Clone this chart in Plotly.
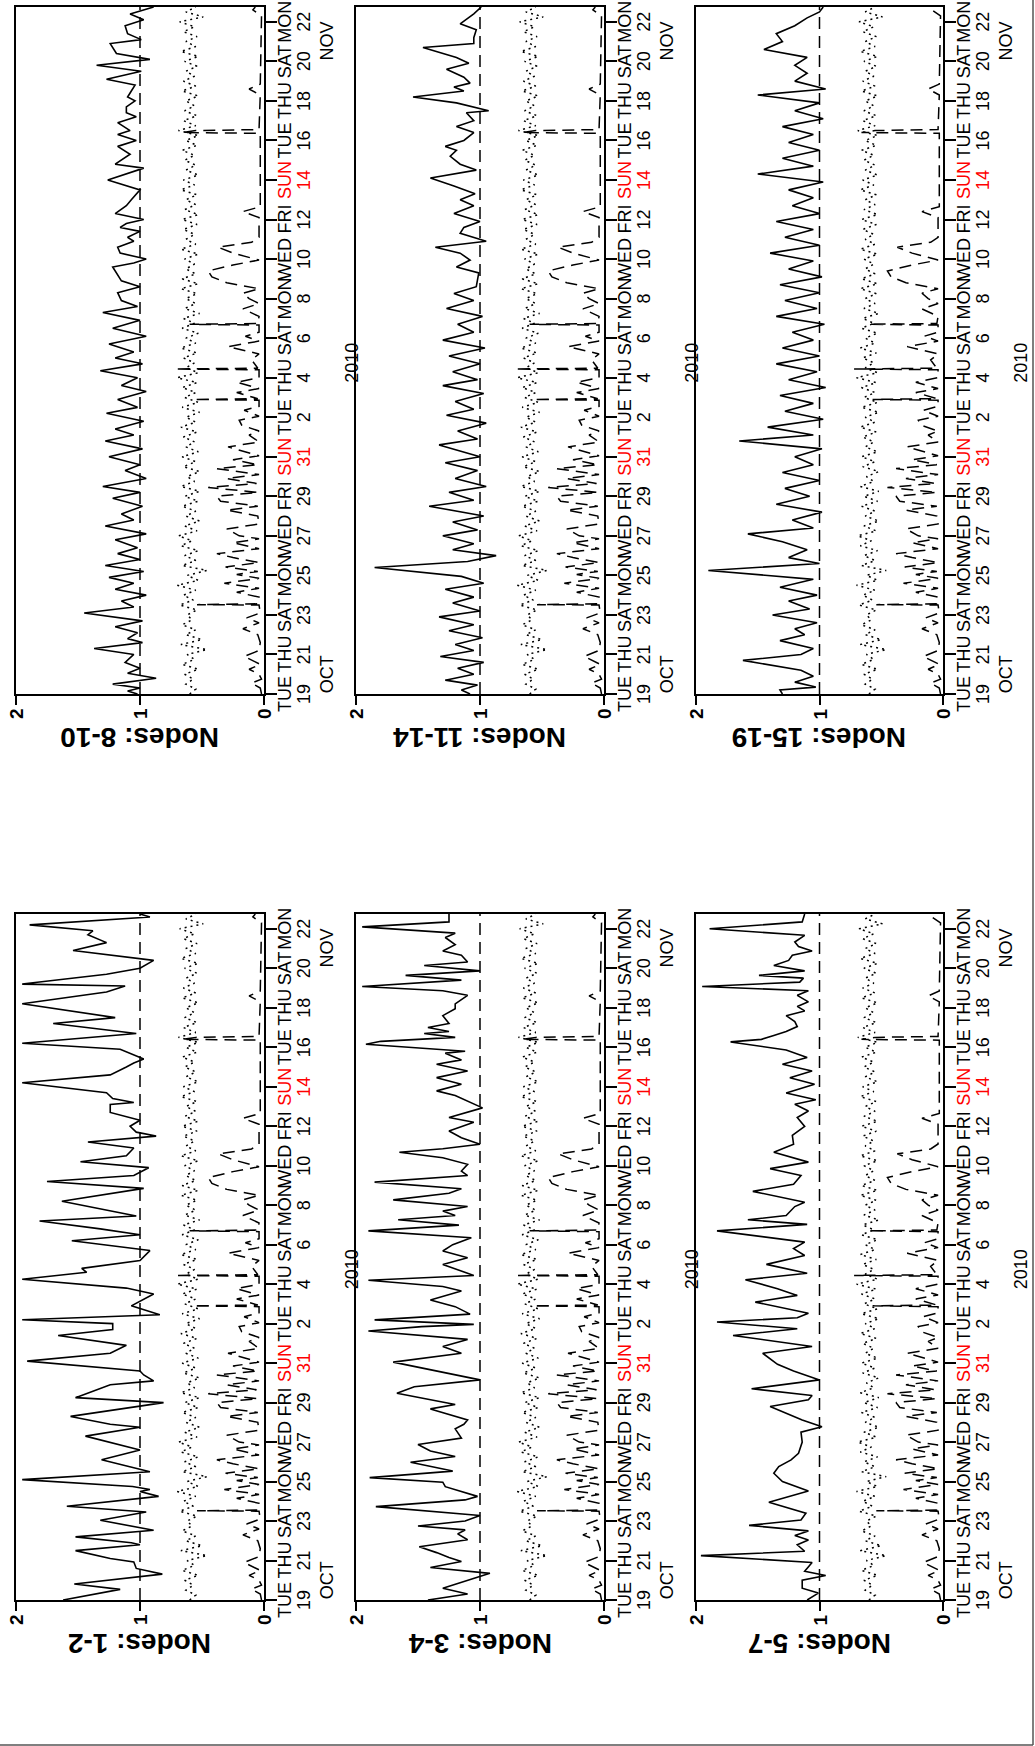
import pandas as pd
import plotly.graph_objects as go

W, H = 1035, 1746
START = pd.Timestamp("2010-10-19 00:00")
END = pd.Timestamp("2010-11-22 18:00")

# Date axis ticks (every second day) and their two-line labels
TICK_DATES = ["2010-10-19", "2010-10-21", "2010-10-23", "2010-10-25", "2010-10-27",
              "2010-10-29", "2010-10-31", "2010-11-02", "2010-11-04", "2010-11-06",
              "2010-11-08", "2010-11-10", "2010-11-12", "2010-11-14", "2010-11-16",
              "2010-11-18", "2010-11-20", "2010-11-22"]
TICK_DAYS = ["TUE", "THU", "SAT", "MON", "WED", "FRI", "SUN", "TUE", "THU", "SAT",
             "MON", "WED", "FRI", "SUN", "TUE", "THU", "SAT", "MON"]
TICK_NUMS = ["19", "21", "23", "25", "27", "29", "31", "2", "4", "6",
             "8", "10", "12", "14", "16", "18", "20", "22"]
MONTH_LABELS = ["OCT", "NOV"]
MONTH_DATES = ["2010-10-20", "2010-11-21"]
YEAR_LABEL = "2010"
YEAR_DATE = "2010-11-04 18:00"
VALUE_TICKS = [0, 1, 2]

# Dotted series shared by all panels, one value every 6 hours from Oct 19 00:00
DOTTED = [0.60, 0.55, 0.63, 0.57, 0.64, 0.53, 0.66, 0.56, 0.62, 0.46, 0.67, 0.50,
          0.63, 0.55, 0.66, 0.58, 0.62, 0.54, 0.68, 0.57, 0.65, 0.55, 0.70, 0.53,
          0.62, 0.46, 0.66, 0.55, 0.64, 0.53, 0.67, 0.58, 0.69, 0.54, 0.64, 0.52,
          0.63, 0.55, 0.66, 0.53, 0.64, 0.52, 0.67, 0.56, 0.62, 0.52, 0.65, 0.55,
          0.66, 0.53, 0.63, 0.56, 0.65, 0.54, 0.67, 0.55, 0.63, 0.52, 0.66, 0.53,
          0.64, 0.55, 0.66, 0.54, 0.70, 0.53, 0.63, 0.56, 0.65, 0.54, 0.67, 0.55,
          0.63, 0.53, 0.66, 0.56, 0.65, 0.52, 0.64, 0.55, 0.63, 0.54, 0.67, 0.53,
          0.66, 0.55, 0.63, 0.56, 0.64, 0.53, 0.67, 0.55, 0.63, 0.56, 0.65, 0.54,
          0.66, 0.53, 0.64, 0.55, 0.63, 0.54, 0.67, 0.56, 0.65, 0.53, 0.63, 0.55,
          0.64, 0.56, 0.66, 0.54, 0.63, 0.53, 0.69, 0.55, 0.65, 0.54, 0.64, 0.56,
          0.63, 0.53, 0.66, 0.55, 0.65, 0.56, 0.63, 0.54, 0.64, 0.53, 0.67, 0.55,
          0.63, 0.54, 0.65, 0.56, 0.68, 0.49, 0.63, 0.55]

# Dashed series shared by all panels: (days since Oct 19, value)
DASHED = [(0.0, 0.02), (0.3, 0.03), (0.55, 0.10), (0.75, 0.02), (1.0, 0.04), (1.25, 0.12),
          (1.5, 0.03), (1.9, 0.16), (2.2, 0.04), (2.6, 0.03), (3.0, 0.05), (3.3, 0.17),
          (3.6, 0.04), (3.85, 0.14), (4.1, 0.03), (4.5, 0.04), (4.52, 0.54), (4.56, 0.05),
          (4.9, 0.04), (5.15, 0.22), (5.35, 0.04), (5.6, 0.32), (5.85, 0.04), (6.05, 0.22),
          (6.2, 0.05), (6.42, 0.31), (6.65, 0.04), (6.9, 0.25), (7.1, 0.38), (7.35, 0.04),
          (7.65, 0.25), (7.85, 0.04), (8.0, 0.20), (8.35, 0.30), (8.6, 0.04), (9.0, 0.05),
          (9.3, 0.30), (9.5, 0.05), (9.75, 0.35), (10.0, 0.38), (10.2, 0.05), (10.45, 0.45),
          (10.65, 0.06), (10.9, 0.30), (11.1, 0.04), (11.4, 0.38), (11.6, 0.05), (11.85, 0.25),
          (12.05, 0.04), (12.5, 0.29), (12.75, 0.04), (13.1, 0.12), (13.3, 0.04), (13.6, 0.18),
          (13.85, 0.20), (14.05, 0.04), (14.35, 0.16), (14.55, 0.04), (14.86, 0.04), (14.9, 0.57),
          (14.94, 0.05), (15.25, 0.22), (15.45, 0.04), (15.77, 0.22), (16.0, 0.04), (16.4, 0.04),
          (16.44, 0.72), (16.48, 0.05), (16.9, 0.10), (17.2, 0.04), (17.57, 0.29), (17.85, 0.04),
          (18.1, 0.15), (18.3, 0.04), (18.66, 0.04), (18.7, 0.60), (18.74, 0.05), (19.1, 0.04),
          (19.48, 0.17), (19.75, 0.04), (20.0, 0.12), (20.27, 0.17), (20.5, 0.04), (20.8, 0.30),
          (21.1, 0.42), (21.4, 0.45), (21.7, 0.25), (21.95, 0.04), (22.3, 0.25), (22.6, 0.37),
          (22.85, 0.10), (23.1, 0.04), (24.1, 0.04), (24.4, 0.17), (24.65, 0.03), (28.36, 0.03),
          (28.4, 0.66), (28.5, 0.55), (28.55, 0.04), (30.3, 0.03), (30.6, 0.12), (30.85, 0.03),
          (34.3, 0.02), (34.6, 0.09), (34.75, 0.07)]

# Per-panel solid series: (days since Oct 19, value)
SOLID_1_2 = [(0, 1.62), (0.54, 1.16), (0.81, 1.53), (1.31, 0.82), (1.6, 1.03), (1.93, 1.05),
             (2.1, 1.24), (2.5, 1.52), (2.8, 1.0), (2.9, 1.07), (3.2, 1.52), (3.53, 0.89),
             (4.04, 1.32), (4.46, 0.95), (4.75, 1.59), (5.25, 0.85), (5.5, 1.0), (5.6, 0.92),
             (5.75, 1.06), (6.1, 1.95), (6.5, 0.92), (7.1, 1.31), (7.6, 1.0), (8.0, 1.24),
             (8.3, 1.44), (8.75, 1.0), (8.9, 1.24), (9.3, 1.56), (9.6, 1.24), (10.0, 0.81),
             (10.25, 1.52), (10.9, 1.24), (11.1, 0.89), (11.4, 0.97), (11.6, 1.0), (12.1, 1.91),
             (12.5, 1.24), (12.9, 1.11), (13.4, 1.66), (13.7, 1.22), (14.0, 1.22), (14.2, 1.95),
             (14.45, 0.84), (14.9, 1.07), (15.5, 0.89), (15.8, 1.11), (16.25, 1.95), (16.6, 1.43),
             (16.8, 1.47), (17.2, 1.0), (17.7, 0.92), (18.2, 1.55), (18.5, 1.0), (18.8, 1.32),
             (19.2, 1.81), (19.45, 1.03), (20.2, 1.63), (20.6, 1.24), (20.85, 0.97), (21.2, 1.75),
             (21.5, 1.05), (21.9, 0.93), (22.2, 1.48), (22.5, 1.11), (22.9, 1.05), (23.2, 1.42),
             (23.5, 0.87), (23.7, 1.03), (24.0, 1.08), (24.3, 1.0), (24.7, 1.24), (25.1, 1.24),
             (25.2, 1.05), (25.4, 1.22), (25.7, 1.27), (26.2, 1.95), (26.6, 1.24), (27.0, 1.11),
             (27.2, 1.05), (27.4, 0.97), (27.9, 1.16), (28.2, 1.95), (28.7, 1.03), (29.2, 1.7),
             (29.5, 1.2), (30.2, 1.95), (30.8, 1.27), (31.1, 1.12), (31.2, 1.95), (31.7, 1.27),
             (32.0, 1.0), (32.4, 0.89), (32.9, 1.54), (33.3, 1.27), (33.7, 1.42), (33.9, 1.38),
             (34.2, 1.89), (34.6, 0.92), (34.75, 1.0)]

SOLID_3_4 = [(0, 1.42), (0.3, 1.1), (0.6, 1.3), (0.9, 1.15), (1.35, 0.92), (1.65, 1.4), (1.95, 1.15),
             (2.15, 1.25), (2.4, 1.35), (2.7, 1.49), (3.05, 1.1), (3.35, 1.18), (3.55, 1.12),
             (3.75, 1.5), (4.0, 1.12), (4.28, 1.0), (4.73, 1.84), (5.07, 1.12), (5.25, 1.02),
             (5.74, 1.28), (5.97, 1.3), (6.2, 1.89), (6.53, 1.22), (6.98, 1.56), (7.27, 1.2),
             (7.55, 1.4), (7.88, 1.5), (8.2, 1.15), (8.67, 1.2), (8.9, 1.13), (9.12, 1.1),
             (9.68, 1.4), (9.9, 1.2), (10.47, 1.67), (10.8, 1.53), (11.15, 1.0), (11.5, 1.28),
             (12.05, 1.7), (12.5, 1.15), (12.84, 1.3), (13.2, 1.1), (13.63, 1.9), (13.85, 1.47),
             (13.96, 1.05), (14.19, 1.85), (14.48, 1.08), (14.86, 1.2), (15.2, 1.4), (15.65, 1.15),
             (15.88, 1.3), (16.2, 1.9), (16.44, 1.05), (17.0, 1.3), (17.34, 1.1), (17.68, 1.3),
             (18.0, 1.22), (18.35, 1.07), (18.7, 1.9), (18.99, 1.17), (19.26, 1.66), (19.48, 1.2),
             (19.7, 1.3), (19.93, 1.1), (20.27, 1.7), (20.6, 1.25), (20.83, 1.15), (21.17, 1.85),
             (21.5, 1.1), (21.73, 1.15), (22.07, 1.1), (22.4, 1.3), (22.68, 1.65), (22.86, 1.3),
             (23.09, 1.0), (23.42, 1.15), (23.76, 1.25), (24.2, 1.05), (24.44, 1.25), (24.93, 0.98),
             (25.56, 1.2), (25.79, 1.35), (26.13, 1.15), (26.46, 1.35), (26.8, 1.1), (27.14, 1.35),
             (27.36, 1.15), (27.7, 1.28), (27.8, 1.12), (28.15, 1.92), (28.3, 1.8), (28.5, 1.2),
             (28.7, 1.45), (28.8, 1.25), (29.0, 1.42), (29.2, 1.25), (29.6, 1.3), (29.95, 1.2),
             (30.2, 1.2), (30.63, 1.1), (30.86, 1.3), (31.08, 1.95), (31.4, 1.15), (31.64, 1.6),
             (31.87, 1.0), (32.14, 1.45), (32.32, 1.1), (32.66, 1.15), (32.88, 1.3), (33.2, 1.2),
             (33.56, 1.28), (33.78, 1.2), (34.1, 1.95), (34.35, 1.25), (34.75, 1.25)]

SOLID_5_7 = [(0, 1.1), (0.35, 1.01), (0.6, 1.14), (1.0, 1.14), (1.24, 0.95), (1.46, 1.12),
             (1.9, 1.06), (2.25, 1.96), (2.47, 1.12), (2.8, 1.18), (3.04, 1.09), (3.27, 1.2),
             (3.5, 1.09), (3.78, 1.57), (4.05, 1.15), (4.4, 1.11), (4.95, 1.41), (5.52, 1.09),
             (6.0, 1.3), (6.42, 1.37), (6.76, 1.33), (7.1, 1.23), (7.43, 1.17), (8.0, 1.14),
             (8.5, 1.15), (8.78, 0.98), (9.12, 1.14), (9.8, 1.4), (10.14, 1.09), (10.36, 1.06),
             (10.7, 1.55), (11.15, 1.0), (11.6, 1.21), (11.94, 1.34), (12.5, 1.46), (12.84, 1.06),
             (13.4, 1.7), (13.74, 1.18), (14.08, 1.83), (14.3, 1.18), (14.53, 1.09), (15.09, 1.52),
             (15.43, 1.18), (15.77, 1.34), (16.22, 1.6), (16.55, 1.1), (17.0, 1.43), (17.45, 1.12),
             (17.8, 1.21), (18.13, 1.12), (18.7, 1.83), (19.03, 1.1), (19.26, 1.58), (19.48, 1.27),
             (19.93, 1.2), (20.15, 1.12), (20.7, 1.54), (21.06, 1.21), (21.5, 1.15), (21.85, 1.4),
             (22.18, 1.09), (22.68, 1.37), (23.09, 1.21), (23.54, 1.22), (23.99, 1.12), (24.44, 1.18),
             (24.77, 1.09), (25.11, 1.2), (25.34, 1.03), (25.68, 1.27), (26.13, 1.04), (26.46, 1.24),
             (26.8, 1.06), (27.14, 1.3), (27.48, 1.1), (27.86, 1.27), (28.27, 1.72), (28.4, 1.47),
             (28.6, 1.37), (28.8, 1.27), (29.05, 1.18), (29.3, 1.2), (29.6, 1.27), (29.84, 1.12),
             (30.07, 1.18), (30.3, 1.09), (30.63, 1.18), (30.86, 1.09), (31.08, 1.95), (31.3, 1.16),
             (31.5, 1.13), (31.64, 1.49), (31.87, 1.12), (32.14, 1.37), (32.4, 1.25), (32.66, 1.22),
             (32.88, 1.06), (33.1, 1.17), (33.33, 1.2), (33.67, 1.12), (34.0, 1.89), (34.35, 1.14),
             (34.75, 1.12)]

SOLID_8_10 = [(0, 1.02), (0.15, 1.1), (0.3, 1.0), (0.5, 1.22), (0.8, 0.87), (1.05, 1.1), (1.3, 1.0),
              (1.6, 1.12), (2.0, 1.05), (2.3, 1.37), (2.6, 0.98), (2.8, 1.1), (3.1, 1.02), (3.4, 1.2),
              (3.7, 0.98), (4.1, 1.45), (4.4, 1.05), (4.7, 1.15), (5.0, 0.95), (5.3, 1.2), (5.6, 1.05),
              (5.9, 1.25), (6.2, 0.97), (6.5, 1.28), (6.8, 1.0), (7.1, 1.18), (7.4, 1.02), (7.8, 1.2),
              (8.1, 0.95), (8.5, 1.28), (8.8, 1.05), (9.1, 1.15), (9.5, 0.98), (9.9, 1.22), (10.2, 1.0),
              (10.5, 1.3), (10.9, 0.95), (11.3, 1.12), (11.6, 1.0), (12.0, 1.25), (12.4, 0.98),
              (12.8, 1.28), (13.1, 1.05), (13.4, 1.2), (13.8, 0.97), (14.2, 1.27), (14.5, 1.02),
              (14.9, 1.18), (15.3, 0.95), (15.6, 1.15), (16.0, 1.02), (16.35, 1.32), (16.7, 0.98),
              (17.0, 1.2), (17.3, 1.05), (17.7, 1.25), (18.1, 0.95), (18.5, 1.22), (18.9, 1.0),
              (19.3, 1.3), (19.6, 1.02), (19.9, 1.15), (20.3, 1.18), (20.6, 1.0), (20.9, 1.15),
              (21.6, 1.22), (21.8, 1.05), (22.0, 0.95), (22.3, 1.16), (22.6, 1.18), (22.9, 1.05),
              (23.1, 1.1), (23.4, 1.0), (23.6, 1.16), (23.8, 1.11), (24.0, 0.97), (24.3, 1.2),
              (24.7, 1.11), (25.0, 1.07), (25.5, 1.0), (26.0, 1.26), (26.6, 0.97), (26.8, 1.2),
              (27.3, 1.08), (27.7, 1.18), (28.0, 1.03), (28.3, 1.18), (28.5, 1.08), (28.9, 1.18),
              (29.2, 1.03), (29.4, 1.11), (29.7, 1.11), (30.0, 1.04), (30.2, 1.1), (30.5, 1.07),
              (30.8, 1.04), (31.1, 1.27), (31.5, 0.99), (31.8, 1.35), (32.1, 0.92), (32.4, 1.19),
              (32.9, 1.24), (33.1, 0.99), (33.4, 1.1), (33.8, 1.12), (34.1, 0.97), (34.4, 1.08),
              (34.75, 0.89)]

SOLID_11_14 = [(0, 1.08), (0.2, 1.15), (0.45, 1.02), (0.7, 1.28), (1.0, 1.05), (1.3, 1.18), (1.6, 0.97),
               (1.9, 1.32), (2.2, 1.05), (2.5, 1.2), (2.85, 0.98), (3.2, 1.25), (3.5, 1.05), (3.9, 1.33),
               (4.2, 1.0), (4.6, 1.22), (4.9, 1.05), (5.3, 1.28), (5.6, 0.97), (5.95, 1.15), (6.4, 1.85),
               (6.7, 1.1), (7.0, 0.87), (7.3, 1.22), (7.6, 1.05), (8.0, 1.3), (8.3, 1.02), (8.7, 1.22),
               (9.0, 0.97), (9.5, 1.41), (9.8, 1.05), (10.2, 1.25), (10.5, 0.95), (10.9, 1.2),
               (11.3, 1.02), (11.7, 1.28), (12.0, 1.0), (12.6, 1.33), (12.9, 1.02), (13.3, 1.18),
               (13.7, 0.95), (14.1, 1.27), (14.4, 1.05), (14.8, 1.2), (15.2, 0.97), (15.6, 1.3),
               (15.9, 1.02), (16.3, 1.22), (16.7, 1.0), (17.1, 1.25), (17.5, 0.96), (17.9, 1.3),
               (18.3, 1.05), (18.7, 1.18), (19.1, 0.98), (19.5, 1.27), (19.9, 1.05),
               (20.26, 1.21), (20.6, 1.03), (21.3, 1.01), (21.6, 1.19), (21.95, 1.08), (22.3, 1.16),
               (22.6, 1.36), (22.9, 0.95), (23.3, 1.16), (23.6, 1.13), (23.9, 1.0), (24.3, 1.21),
               (24.7, 1.05), (25.0, 1.16), (25.3, 1.04), (25.7, 1.21), (26.1, 1.4), (26.5, 1.03),
               (26.8, 1.16), (27.2, 1.24), (27.5, 1.19), (27.7, 1.28), (28.0, 1.13), (28.4, 1.05),
               (28.7, 1.19), (29.0, 1.05), (29.4, 1.11), (29.5, 0.93), (29.9, 1.19), (30.2, 1.54),
               (30.5, 1.13), (30.7, 1.21), (30.9, 1.08), (31.2, 1.13), (31.6, 1.27), (31.9, 1.09),
               (32.2, 1.19), (32.7, 1.46), (32.9, 1.05), (33.2, 1.05), (33.6, 1.03), (33.9, 1.16),
               (34.4, 1.05), (34.75, 0.99)]

SOLID_15_19 = [(0, 1.3), (0.2, 1.32), (0.35, 1.03), (0.6, 1.2), (0.9, 1.05), (1.2, 1.15), (1.7, 1.62),
               (2.0, 1.15), (2.3, 1.05), (2.7, 1.32), (3.0, 1.12), (3.3, 1.2), (3.6, 1.02), (4.0, 1.38),
               (4.3, 1.08), (4.7, 1.25), (5.0, 1.02), (5.4, 1.32), (5.8, 1.05), (6.25, 1.9), (6.6, 1.0),
               (6.9, 1.25), (7.3, 1.1), (7.7, 1.3), (8.1, 1.58), (8.4, 1.05), (8.8, 1.22), (9.2, 0.98),
               (9.6, 1.35), (10.0, 1.08), (10.4, 1.28), (10.8, 1.0), (11.2, 1.3), (11.6, 1.05),
               (12.0, 1.2), (12.4, 0.98), (12.8, 1.65), (13.1, 1.05), (13.5, 1.42), (13.9, 0.97),
               (14.3, 1.28), (14.7, 1.05), (15.1, 1.32), (15.5, 0.95), (15.9, 1.25), (16.3, 1.02),
               (16.7, 1.35), (17.1, 1.0), (17.5, 1.3), (17.9, 1.05), (18.3, 1.22), (18.7, 0.96),
               (19.1, 1.35), (19.5, 1.02), (19.9, 1.28), (20.3, 1.0), (20.7, 1.32), (21.1, 0.98),
               (21.5, 1.25), (21.9, 1.05), (22.3, 1.4), (22.7, 1.0), (23.1, 1.28), (23.5, 1.05),
               (23.9, 1.35), (24.3, 1.0), (24.7, 1.22), (25.1, 1.05), (25.5, 1.25), (25.9, 0.97),
               (26.3, 1.5), (26.7, 1.05), (27.1, 1.3), (27.5, 1.0), (27.9, 1.25), (28.3, 1.05),
               (28.7, 1.3), (29.1, 0.97), (29.5, 1.2), (29.9, 1.0), (30.3, 1.5), (30.6, 0.95),
               (31.0, 1.2), (31.4, 1.1), (31.8, 1.2), (32.2, 1.1), (32.6, 1.45), (33.0, 1.3),
               (33.4, 1.35), (33.8, 1.2), (34.2, 1.1), (34.5, 1.0), (34.75, 0.97)]

# Panel layout in pixels: column (left, right) and row (top, bottom)
COL_PX = [(16, 264), (356, 604), (696, 943)]
ROW_PX = [(7, 694), (914, 1600)]

PANELS = [
    ("Nodes: 8-10", SOLID_8_10, 0, 0),
    ("Nodes: 11-14", SOLID_11_14, 1, 0),
    ("Nodes: 15-19", SOLID_15_19, 2, 0),
    ("Nodes: 1-2", SOLID_1_2, 0, 1),
    ("Nodes: 3-4", SOLID_3_4, 1, 1),
    ("Nodes: 5-7", SOLID_5_7, 2, 1),
]

FONT = "Liberation Sans, Arial, Helvetica, sans-serif"
DASH = "12px,7px"
DOT = "2px,4px"


def to_time(days):
    return [START + pd.Timedelta(days=d) for d in days]


dotted_times = pd.date_range(START, periods=len(DOTTED), freq="6h")
dash_times = to_time([p[0] for p in DASHED])
dash_vals = [p[1] for p in DASHED]

fig = go.Figure()
annotations = []
shapes = []
layout_axes = {}

for k, (title, solid, col, row) in enumerate(PANELS, start=1):
    left, right = COL_PX[col]
    top, bottom = ROW_PX[row]
    suffix = "" if k == 1 else str(k)
    xa, ya = "x" + suffix, "y" + suffix

    layout_axes["xaxis" + suffix] = dict(
        domain=[left / W, right / W], range=[2, 0], anchor=ya,
        showline=True, mirror=True, linecolor="black", linewidth=2,
        ticks="outside", tickvals=VALUE_TICKS, ticklen=9, tickwidth=1.5, tickcolor="black",
        showticklabels=False, showgrid=False, zeroline=False, fixedrange=True,
    )
    layout_axes["yaxis" + suffix] = dict(
        domain=[1 - bottom / H, 1 - top / H], type="date", range=[START, END], anchor=xa,
        side="right", showline=True, mirror=True, linecolor="black", linewidth=2,
        ticks="outside", tickmode="array", tickvals=TICK_DATES, ticklen=11, tickwidth=1.5,
        tickcolor="black", showticklabels=False, showgrid=False, zeroline=False,
    )

    fig.add_trace(go.Scatter(
        x=[p[1] for p in solid], y=to_time([p[0] for p in solid]), xaxis=xa, yaxis=ya,
        mode="lines", line=dict(color="black", width=1.6), hoverinfo="skip"))
    fig.add_trace(go.Scatter(
        x=DOTTED, y=dotted_times, xaxis=xa, yaxis=ya,
        mode="lines", line=dict(color="black", width=1.5, dash=DOT), hoverinfo="skip"))
    fig.add_trace(go.Scatter(
        x=dash_vals, y=dash_times, xaxis=xa, yaxis=ya,
        mode="lines", line=dict(color="black", width=1.5, dash=DASH), hoverinfo="skip"))

    # reference level at 1
    shapes.append(dict(type="line", xref=xa, x0=1, x1=1, yref=ya + " domain", y0=0, y1=1,
                       line=dict(color="black", width=1.5, dash=DASH)))

    # value tick labels
    for v in VALUE_TICKS:
        annotations.append(dict(
            x=v, xref=xa, y=1 - (bottom + 20) / H, yref="paper", text=f"<b>{v}</b>",
            textangle=-90, showarrow=False, xanchor="center", yanchor="middle",
            font=dict(family=FONT, size=19, color="black")))

    # date tick labels
    for d, name, num in zip(TICK_DATES, TICK_DAYS, TICK_NUMS):
        color = "#ff0000" if name == "SUN" else "black"
        for text, off in ((name, 21), (num, 40)):
            annotations.append(dict(
                x=(right + off) / W, xref="paper", y=d, yref=ya, text=text,
                textangle=-90, showarrow=False, xanchor="center", yanchor="middle",
                font=dict(family=FONT, size=18, color=color)))
    for d, m in zip(MONTH_DATES, MONTH_LABELS):
        annotations.append(dict(
            x=(right + 63) / W, xref="paper", y=d, yref=ya, text=m,
            textangle=-90, showarrow=False, xanchor="center", yanchor="middle",
            font=dict(family=FONT, size=18, color="black")))
    year_x = min(right + 88, W - 14)
    annotations.append(dict(
        x=year_x / W, xref="paper", y=YEAR_DATE, yref=ya, text=YEAR_LABEL,
        textangle=-90, showarrow=False, xanchor="center", yanchor="middle",
        font=dict(family=FONT, size=18, color="black")))

    # panel title
    annotations.append(dict(
        x=(left + right) / 2 / W, xref="paper", y=1 - (bottom + 44) / H, yref="paper",
        text=f"<b>{title}</b>", textangle=180, showarrow=False,
        xanchor="center", yanchor="middle", font=dict(family=FONT, size=28, color="black")))

# page frame at the right and bottom edges
shapes.append(dict(type="line", xref="paper", yref="paper", x0=1033 / W, x1=1033 / W,
                   y0=1 - 1745 / H, y1=1, line=dict(color="#555555", width=1.5)))
shapes.append(dict(type="line", xref="paper", yref="paper", x0=0, x1=1033 / W,
                   y0=1 - 1745 / H, y1=1 - 1745 / H, line=dict(color="#555555", width=1.5)))

fig.update_layout(
    width=W, height=H, autosize=False,
    margin=dict(l=0, r=0, t=0, b=0),
    paper_bgcolor="white", plot_bgcolor="white",
    showlegend=False,
    annotations=annotations, shapes=shapes,
    **layout_axes,
)

fig.write_html("out.html")
